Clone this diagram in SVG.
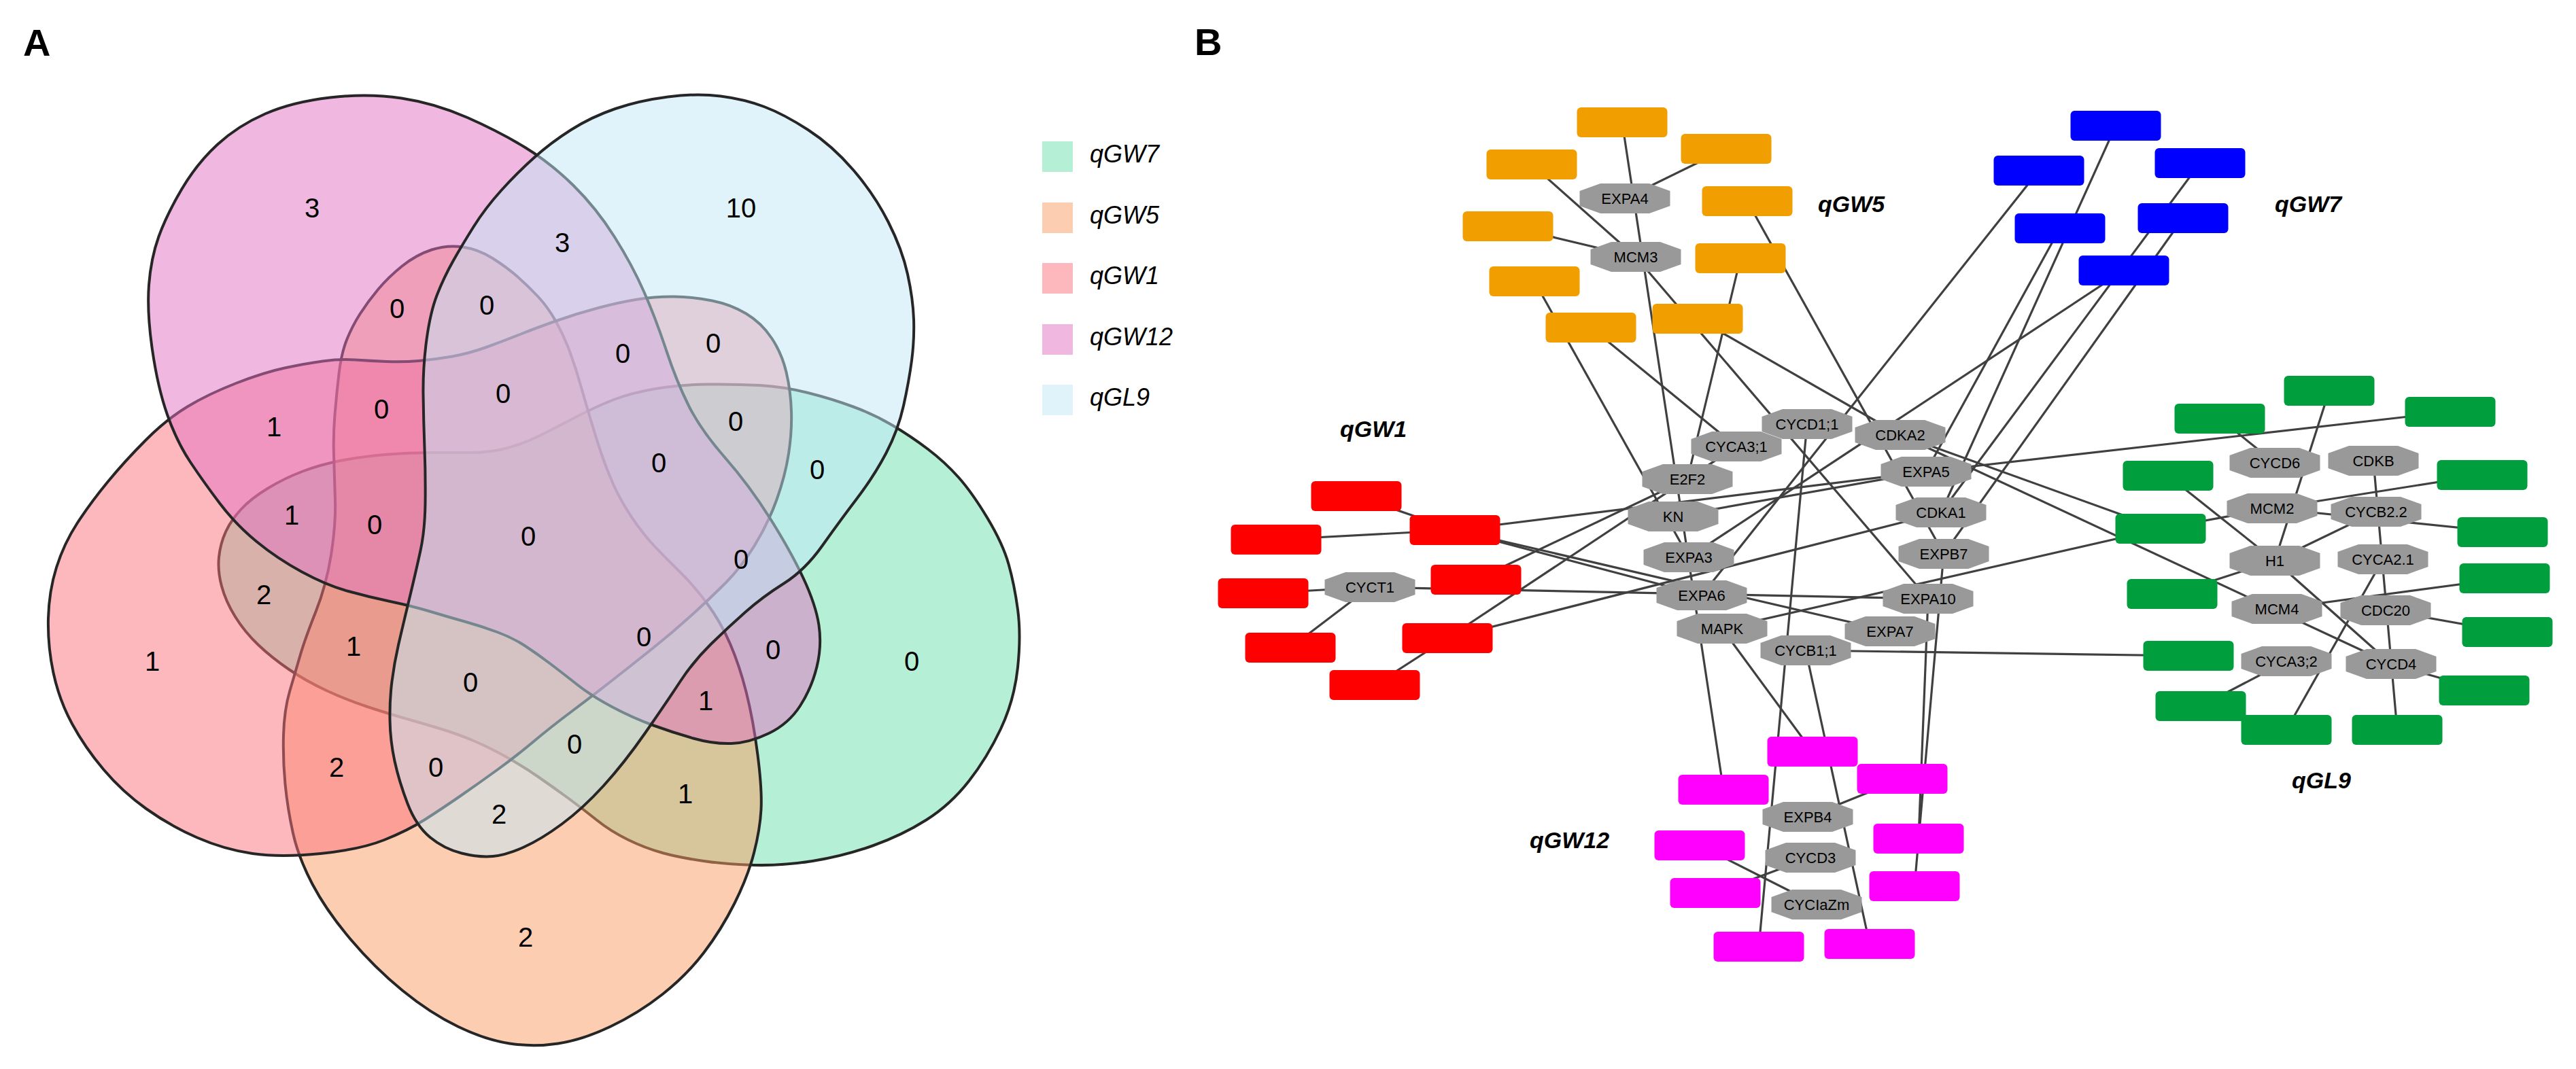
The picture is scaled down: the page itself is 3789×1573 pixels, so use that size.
<svg xmlns="http://www.w3.org/2000/svg" xmlns:xlink="http://www.w3.org/1999/xlink" width="3789" height="1573" viewBox="0 0 3789 1573">
<style>
.set{fill-opacity:0.5;stroke:#262626;stroke-width:4}
.vn{font-family:"Liberation Sans",Arial,sans-serif;font-size:40px;text-anchor:middle;fill:#000}
.lg{font-family:"Liberation Sans",Arial,sans-serif;font-size:36px;font-style:italic;fill:#000}
.pl{font-family:"Liberation Sans",Arial,sans-serif;font-size:56px;font-weight:bold;fill:#000}
.ql{font-family:"Liberation Sans",Arial,sans-serif;font-size:34px;font-weight:bold;font-style:italic;fill:#000}
.nl{font-family:"Liberation Sans",Arial,sans-serif;font-size:22px;text-anchor:middle;fill:#000}
.lk line{stroke:#404040;stroke-width:3.2}
.gold{fill:#F09E00}.blu{fill:#0000FF}.red{fill:#FF0000}.grn{fill:#009E3C}.mag{fill:#FF00FF}.oct{fill:#999999}
</style>
<defs>
<polygon id="oct" points="-36,-22 36,-22 66.5,-11 66.5,11 36,22 -36,22 -66.5,11 -66.5,-11"/>
</defs>
<rect width="3789" height="1573" fill="#fff"/>
<text class="pl" x="34" y="82">A</text>
<text class="pl" x="1757" y="81">B</text>
<g id="venn">
<path id="set-qGW7" class="set" fill="#6BE1AD" d="M1041,565.5 Q1082,565 1117.5,567 Q1153,569 1188.5,578 Q1224,587 1255,598.5 Q1286,610 1313,626 Q1340,642 1365,661 Q1390,680 1410,702.5 Q1430,725 1452.5,762.5 Q1475,800 1483.5,830 Q1492,860 1497,897 Q1502,934 1497,982 Q1492,1030 1472,1072.5 Q1452,1115 1425,1149.5 Q1398,1184 1362.5,1206.5 Q1327,1229 1283.5,1244.5 Q1240,1260 1195,1267 Q1150,1274 1110,1273 Q1070,1272 1035,1267 Q1000,1262 974.5,1255 Q949,1248 923.5,1235.5 Q898,1223 877.5,1206.5 Q857,1190 836.5,1175 Q816,1160 793,1144 Q770,1128 745,1114 Q720,1100 696.5,1090 Q673,1080 646.5,1072 Q620,1064 595.5,1057 Q571,1050 540.5,1040 Q510,1030 480,1016 Q450,1002 425,985 Q400,968 380,949 Q360,930 346,907.5 Q332,885 326,862.5 Q320,840 322,820 Q324,800 332,782.5 Q340,765 355,749 Q370,733 394,718.5 Q418,704 444,694 Q470,684 500,678 Q530,672 565,669 Q600,666 635,666 Q670,666 695,666 Q720,666 745,659.5 Q770,653 793,641.5 Q816,630 846.5,614 Q877,598 903,588 Q929,578 964.5,572 Q1000,566 1041,565.5 Z"/>
<path id="set-qGW5" class="set" fill="#F99B61" d="M821,1535.5 Q785,1541 749.5,1535.5 Q714,1530 673.5,1510.5 Q633,1491 592,1457.5 Q551,1424 515.5,1382 Q480,1340 459.5,1301 Q439,1262 431,1226 Q423,1190 419.5,1154 Q416,1118 417,1081.5 Q418,1045 426,1017.5 Q434,990 441.5,964.5 Q449,939 464.5,900 Q480,861 487,816.5 Q494,772 493,736 Q492,700 491,670 Q490,640 492.5,610 Q495,580 498.5,550 Q502,520 510,500 Q518,480 529.5,462 Q541,444 556,426 Q571,408 591.5,391.5 Q612,375 635,367.5 Q658,360 681,363.5 Q704,367 724.5,380 Q745,393 760.5,406.5 Q776,420 791,436 Q806,452 818,473.5 Q830,495 839,520 Q848,545 855,570 Q862,595 869.5,620 Q877,645 884.5,667.5 Q892,690 902,712.5 Q912,735 928.5,760 Q945,785 962.5,803.5 Q980,822 1000,841.5 Q1020,861 1040,888 Q1060,915 1074,947.5 Q1088,980 1098,1020 Q1108,1060 1114.5,1111 Q1121,1162 1119.5,1191 Q1118,1220 1109,1255 Q1100,1290 1080.5,1329 Q1061,1368 1035.5,1401.5 Q1010,1435 974.5,1463 Q939,1491 898,1510.5 Q857,1530 821,1535.5 Z"/>
<path id="set-qGW1" class="set" fill="#FB717D" d="M471.5,1256 Q413,1262 371.5,1256 Q330,1250 290,1232.5 Q250,1215 215,1190 Q180,1165 152.5,1132.5 Q125,1100 106,1065 Q87,1030 78.5,990 Q70,950 71,910 Q72,870 83,835 Q94,800 113.5,770 Q133,740 158.5,709 Q184,678 214.5,647.5 Q245,617 275.5,598.5 Q306,580 347,564 Q388,548 418.5,541.5 Q449,535 474.5,531.5 Q500,528 522.5,529.5 Q545,531 568.5,532 Q592,533 616,531 Q640,529 665,524.5 Q690,520 715,511 Q740,502 765,492 Q790,482 820,471.5 Q850,461 880,453 Q910,445 937.5,440.5 Q965,436 992.5,436.5 Q1020,437 1047.5,442.5 Q1075,448 1097.5,461.5 Q1120,475 1135,497.5 Q1150,520 1156.5,547.5 Q1163,575 1164,605 Q1165,635 1160,667.5 Q1155,700 1142.5,735 Q1130,770 1110,802.5 Q1090,835 1067.5,857.5 Q1045,880 1017.5,905 Q990,930 960,954 Q930,978 900,1001.5 Q870,1025 840,1047.5 Q810,1070 785,1091 Q760,1112 732.5,1132 Q705,1152 677.5,1171 Q650,1190 625,1206 Q600,1222 565,1236 Q530,1250 471.5,1256 Z"/>
<path id="set-qGW12" class="set" fill="#E171C1" d="M485.5,143.5 Q541,137 590.5,144.5 Q640,152 687.5,173 Q735,194 772.5,217 Q810,240 843.5,273 Q877,306 903.5,348 Q930,390 947.5,430 Q965,470 980,515.5 Q995,561 1013,597 Q1031,633 1066.5,673.5 Q1102,714 1132.5,762.5 Q1163,811 1181.5,850.5 Q1200,890 1204.5,920 Q1209,950 1201.5,981 Q1194,1012 1177,1038.5 Q1160,1065 1131,1079 Q1102,1093 1076,1094 Q1050,1095 1020,1086.5 Q990,1078 960,1067 Q930,1056 900,1040 Q870,1024 848.5,1007 Q827,990 808.5,976 Q790,962 772.5,950.5 Q755,939 732.5,930.5 Q710,922 685,915 Q660,908 633.5,900 Q607,892 574,885 Q541,878 510.5,869.5 Q480,861 444,841.5 Q408,822 377.5,797 Q347,772 323.5,741 Q300,710 280,680 Q260,650 246,610 Q232,570 224,514.5 Q216,459 219,419.5 Q222,380 233.5,348 Q245,316 267.5,278 Q290,240 320,212.5 Q350,185 390,167.5 Q430,150 485.5,143.5 Z"/>
<path id="set-qGL9" class="set" fill="#C1E7F7" d="M982.5,142.5 Q1025,137 1060,141.5 Q1095,146 1124,157 Q1153,168 1188.5,191 Q1224,214 1255,250 Q1286,286 1306.5,326.5 Q1327,367 1335,403.5 Q1343,440 1344,470 Q1345,500 1341,530.5 Q1337,561 1329,597 Q1321,633 1303.5,666.5 Q1286,700 1260.5,733.5 Q1235,767 1209.5,803 Q1184,839 1153,858.5 Q1122,878 1096.5,900.5 Q1071,923 1045.5,948 Q1020,973 1000,1003.5 Q980,1034 949,1078.5 Q918,1123 887.5,1156.5 Q857,1190 826.5,1212.5 Q796,1235 770.5,1246.5 Q745,1258 725,1260 Q705,1262 679,1255.5 Q653,1249 632.5,1232 Q612,1215 599.5,1182.5 Q587,1150 580.5,1120 Q574,1090 573.5,1060 Q573,1030 576.5,1002.5 Q580,975 586,949 Q592,923 602,881.5 Q612,840 618.5,810 Q625,780 625.5,740 Q626,700 624.5,660 Q623,620 622.5,580 Q622,540 627.5,499.5 Q633,459 643,433.5 Q653,408 666.5,384 Q680,360 697,333 Q714,306 737,280.5 Q760,255 785,232.5 Q810,210 840,191 Q870,172 905,160 Q940,148 982.5,142.5 Z"/>
</g>
<g id="venn-counts">
<text class="vn" x="459" y="320">3</text>
<text class="vn" x="1090" y="320">10</text>
<text class="vn" x="827" y="371">3</text>
<text class="vn" x="584" y="468">0</text>
<text class="vn" x="716" y="463">0</text>
<text class="vn" x="916" y="534">0</text>
<text class="vn" x="1049" y="519">0</text>
<text class="vn" x="403" y="642">1</text>
<text class="vn" x="561" y="616">0</text>
<text class="vn" x="740" y="593">0</text>
<text class="vn" x="1082" y="634">0</text>
<text class="vn" x="969" y="695">0</text>
<text class="vn" x="1202" y="705">0</text>
<text class="vn" x="429" y="772">1</text>
<text class="vn" x="551" y="786">0</text>
<text class="vn" x="777" y="803">0</text>
<text class="vn" x="1090" y="837">0</text>
<text class="vn" x="388" y="889">2</text>
<text class="vn" x="520" y="965">1</text>
<text class="vn" x="224" y="987">1</text>
<text class="vn" x="947" y="951">0</text>
<text class="vn" x="1137" y="970">0</text>
<text class="vn" x="1341" y="987">0</text>
<text class="vn" x="692" y="1018">0</text>
<text class="vn" x="1038" y="1045">1</text>
<text class="vn" x="495" y="1143">2</text>
<text class="vn" x="641" y="1143">0</text>
<text class="vn" x="845" y="1109">0</text>
<text class="vn" x="734" y="1212">2</text>
<text class="vn" x="1008" y="1182">1</text>
<text class="vn" x="773" y="1393">2</text>
</g>
<g id="legend">
<rect x="1533" y="208" width="45" height="45" fill="#B5F0D6"/><text class="lg" x="1603" y="239">qGW7</text>
<rect x="1533" y="298" width="45" height="45" fill="#FCCDB0"/><text class="lg" x="1603" y="329">qGW5</text>
<rect x="1533" y="387" width="45" height="45" fill="#FDB8BE"/><text class="lg" x="1603" y="418">qGW1</text>
<rect x="1533" y="477" width="45" height="45" fill="#F0B8E0"/><text class="lg" x="1603" y="508">qGW12</text>
<rect x="1533" y="566" width="45" height="45" fill="#E0F3FB"/><text class="lg" x="1603" y="597">qGL9</text>
</g>
<g id="connectors" class="lk">
<line x1="2386" y1="180" x2="2535" y2="1162"/>
<line x1="2539" y1="219" x2="2390" y2="292"/>
<line x1="2253" y1="242" x2="2406" y2="378"/>
<line x1="2218" y1="333" x2="2406" y2="378"/>
<line x1="2406" y1="378" x2="2836" y2="881"/>
<line x1="2257" y1="414" x2="2484" y2="820"/>
<line x1="2340" y1="482" x2="2554" y2="657"/>
<line x1="2560" y1="380" x2="2482" y2="705"/>
<line x1="2497" y1="469" x2="2795" y2="640"/>
<line x1="2570" y1="296" x2="2859" y2="815"/>
<line x1="3112" y1="185" x2="2855" y2="754"/>
<line x1="2999" y1="251" x2="2503" y2="876"/>
<line x1="3236" y1="240" x2="2855" y2="754"/>
<line x1="3030" y1="336" x2="2833" y2="694"/>
<line x1="3211" y1="321" x2="2859" y2="815"/>
<line x1="3124" y1="398" x2="2484" y2="820"/>
<line x1="1995" y1="730" x2="2140" y2="780"/>
<line x1="1877" y1="794" x2="2140" y2="780"/>
<line x1="2140" y1="780" x2="2833" y2="694"/>
<line x1="2140" y1="780" x2="2503" y2="876"/>
<line x1="2140" y1="780" x2="2780" y2="929"/>
<line x1="2171" y1="853" x2="2482" y2="705"/>
<line x1="1858" y1="873" x2="2015" y2="864"/>
<line x1="1898" y1="953" x2="2015" y2="864"/>
<line x1="2015" y1="864" x2="2836" y2="881"/>
<line x1="2129" y1="939" x2="2554" y2="657"/>
<line x1="2129" y1="939" x2="2855" y2="754"/>
<line x1="2022" y1="1008" x2="2129" y2="939"/>
<line x1="2461" y1="760" x2="2833" y2="694"/>
<line x1="2533" y1="925" x2="2666" y2="1106"/>
<line x1="2533" y1="925" x2="3178" y2="778"/>
<line x1="2658" y1="624" x2="2587" y2="1393"/>
<line x1="2656" y1="957" x2="2750" y2="1389"/>
<line x1="2656" y1="957" x2="3219" y2="965"/>
<line x1="2795" y1="640" x2="3178" y2="778"/>
<line x1="2795" y1="640" x2="3517" y2="977"/>
<line x1="3604" y1="606" x2="2833" y2="694"/>
<line x1="2859" y1="815" x2="2816" y2="1304"/>
<line x1="2836" y1="881" x2="2822" y2="1234"/>
<line x1="3426" y1="575" x2="3346" y2="825"/>
<line x1="3265" y1="616" x2="3346" y2="681"/>
<line x1="3491" y1="678" x2="3526" y2="1074"/>
<line x1="3189" y1="700" x2="3346" y2="825"/>
<line x1="3651" y1="699" x2="3342" y2="748"/>
<line x1="3178" y1="778" x2="3342" y2="748"/>
<line x1="3681" y1="783" x2="3342" y2="748"/>
<line x1="3495" y1="753" x2="3346" y2="825"/>
<line x1="3346" y1="825" x2="3195" y2="874"/>
<line x1="3346" y1="825" x2="3517" y2="977"/>
<line x1="3349" y1="896" x2="3684" y2="851"/>
<line x1="3505" y1="823" x2="3363" y2="1074"/>
<line x1="3509" y1="898" x2="3688" y2="930"/>
<line x1="3517" y1="977" x2="3654" y2="1016"/>
<line x1="3363" y1="973" x2="3237" y2="1039"/>
<line x1="2798" y1="1146" x2="2659" y2="1202"/>
<line x1="2500" y1="1244" x2="2672" y2="1331"/>
<line x1="2663" y1="1262" x2="2523" y2="1314"/>
</g>
<g id="qtl-labels">
<text class="ql" x="2674" y="312">qGW5</text>
<text class="ql" x="3346" y="312">qGW7</text>
<text class="ql" x="1971" y="643">qGW1</text>
<text class="ql" x="3371" y="1160">qGL9</text>
<text class="ql" x="2250" y="1248">qGW12</text>
</g>
<g id="n-G1"><rect class="gold" x="2319.5" y="158" width="133" height="44" rx="6"/></g>
<g id="n-G2"><rect class="gold" x="2472.5" y="197" width="133" height="44" rx="6"/></g>
<g id="n-G3"><rect class="gold" x="2186.5" y="220" width="133" height="44" rx="6"/></g>
<g id="n-G5"><rect class="gold" x="2503.5" y="274" width="133" height="44" rx="6"/></g>
<g id="n-G6"><rect class="gold" x="2151.5" y="311" width="133" height="44" rx="6"/></g>
<g id="n-G8"><rect class="gold" x="2493.5" y="358" width="133" height="44" rx="6"/></g>
<g id="n-G9"><rect class="gold" x="2190.5" y="392" width="133" height="44" rx="6"/></g>
<g id="n-G10"><rect class="gold" x="2430.5" y="447" width="133" height="44" rx="6"/></g>
<g id="n-G11"><rect class="gold" x="2273.5" y="460" width="133" height="44" rx="6"/></g>
<g id="n-EXPA4"><use xlink:href="#oct" class="oct" x="2390" y="292"/><text class="nl" x="2390" y="300">EXPA4</text></g>
<g id="n-MCM3"><use xlink:href="#oct" class="oct" x="2406" y="378"/><text class="nl" x="2406" y="386">MCM3</text></g>
<g id="n-B1"><rect class="blu" x="3045.5" y="163" width="133" height="44" rx="6"/></g>
<g id="n-B2"><rect class="blu" x="2932.5" y="229" width="133" height="44" rx="6"/></g>
<g id="n-B3"><rect class="blu" x="3169.5" y="218" width="133" height="44" rx="6"/></g>
<g id="n-B4"><rect class="blu" x="2963.5" y="314" width="133" height="44" rx="6"/></g>
<g id="n-B5"><rect class="blu" x="3144.5" y="299" width="133" height="44" rx="6"/></g>
<g id="n-B6"><rect class="blu" x="3057.5" y="376" width="133" height="44" rx="6"/></g>
<g id="n-R1"><rect class="red" x="1928.5" y="708" width="133" height="44" rx="6"/></g>
<g id="n-R2"><rect class="red" x="2073.5" y="758" width="133" height="44" rx="6"/></g>
<g id="n-R3"><rect class="red" x="1810.5" y="772" width="133" height="44" rx="6"/></g>
<g id="n-R4"><rect class="red" x="2104.5" y="831" width="133" height="44" rx="6"/></g>
<g id="n-R5"><rect class="red" x="1791.5" y="851" width="133" height="44" rx="6"/></g>
<g id="n-R6"><rect class="red" x="2062.5" y="917" width="133" height="44" rx="6"/></g>
<g id="n-R7"><rect class="red" x="1831.5" y="931" width="133" height="44" rx="6"/></g>
<g id="n-R8"><rect class="red" x="1955.5" y="986" width="133" height="44" rx="6"/></g>
<g id="n-CYCT1"><use xlink:href="#oct" class="oct" x="2015" y="864"/><text class="nl" x="2015" y="872">CYCT1</text></g>
<g id="n-CYCD1-1"><use xlink:href="#oct" class="oct" x="2658" y="624"/><text class="nl" x="2658" y="632">CYCD1;1</text></g>
<g id="n-CDKA2"><use xlink:href="#oct" class="oct" x="2795" y="640"/><text class="nl" x="2795" y="648">CDKA2</text></g>
<g id="n-CYCA3-1"><use xlink:href="#oct" class="oct" x="2554" y="657"/><text class="nl" x="2554" y="665">CYCA3;1</text></g>
<g id="n-E2F2"><use xlink:href="#oct" class="oct" x="2482" y="705"/><text class="nl" x="2482" y="713">E2F2</text></g>
<g id="n-EXPA5"><use xlink:href="#oct" class="oct" x="2833" y="694"/><text class="nl" x="2833" y="702">EXPA5</text></g>
<g id="n-KN"><use xlink:href="#oct" class="oct" x="2461" y="760"/><text class="nl" x="2461" y="768">KN</text></g>
<g id="n-CDKA1"><use xlink:href="#oct" class="oct" x="2855" y="754"/><text class="nl" x="2855" y="762">CDKA1</text></g>
<g id="n-EXPA3"><use xlink:href="#oct" class="oct" x="2484" y="820"/><text class="nl" x="2484" y="828">EXPA3</text></g>
<g id="n-EXPB7"><use xlink:href="#oct" class="oct" x="2859" y="815"/><text class="nl" x="2859" y="823">EXPB7</text></g>
<g id="n-EXPA6"><use xlink:href="#oct" class="oct" x="2503" y="876"/><text class="nl" x="2503" y="884">EXPA6</text></g>
<g id="n-EXPA10"><use xlink:href="#oct" class="oct" x="2836" y="881"/><text class="nl" x="2836" y="889">EXPA10</text></g>
<g id="n-MAPK"><use xlink:href="#oct" class="oct" x="2533" y="925"/><text class="nl" x="2533" y="933">MAPK</text></g>
<g id="n-EXPA7"><use xlink:href="#oct" class="oct" x="2780" y="929"/><text class="nl" x="2780" y="937">EXPA7</text></g>
<g id="n-CYCB1-1"><use xlink:href="#oct" class="oct" x="2656" y="957"/><text class="nl" x="2656" y="965">CYCB1;1</text></g>
<g id="n-Gr1"><rect class="grn" x="3359.5" y="553" width="133" height="44" rx="6"/></g>
<g id="n-Gr2"><rect class="grn" x="3198.5" y="594" width="133" height="44" rx="6"/></g>
<g id="n-Gr3"><rect class="grn" x="3537.5" y="584" width="133" height="44" rx="6"/></g>
<g id="n-Gr4"><rect class="grn" x="3122.5" y="678" width="133" height="44" rx="6"/></g>
<g id="n-Gr5"><rect class="grn" x="3584.5" y="677" width="133" height="44" rx="6"/></g>
<g id="n-Gr6"><rect class="grn" x="3111.5" y="756" width="133" height="44" rx="6"/></g>
<g id="n-Gr7"><rect class="grn" x="3614.5" y="761" width="133" height="44" rx="6"/></g>
<g id="n-Gr8"><rect class="grn" x="3617.5" y="829" width="133" height="44" rx="6"/></g>
<g id="n-Gr9"><rect class="grn" x="3128.5" y="852" width="133" height="44" rx="6"/></g>
<g id="n-Gr10"><rect class="grn" x="3621.5" y="908" width="133" height="44" rx="6"/></g>
<g id="n-Gr11"><rect class="grn" x="3152.5" y="943" width="133" height="44" rx="6"/></g>
<g id="n-Gr12"><rect class="grn" x="3587.5" y="994" width="133" height="44" rx="6"/></g>
<g id="n-Gr13"><rect class="grn" x="3170.5" y="1017" width="133" height="44" rx="6"/></g>
<g id="n-Gr14"><rect class="grn" x="3296.5" y="1052" width="133" height="44" rx="6"/></g>
<g id="n-Gr15"><rect class="grn" x="3459.5" y="1052" width="133" height="44" rx="6"/></g>
<g id="n-CYCD6"><use xlink:href="#oct" class="oct" x="3346" y="681"/><text class="nl" x="3346" y="689">CYCD6</text></g>
<g id="n-CDKB"><use xlink:href="#oct" class="oct" x="3491" y="678"/><text class="nl" x="3491" y="686">CDKB</text></g>
<g id="n-MCM2"><use xlink:href="#oct" class="oct" x="3342" y="748"/><text class="nl" x="3342" y="756">MCM2</text></g>
<g id="n-CYCB2-2"><use xlink:href="#oct" class="oct" x="3495" y="753"/><text class="nl" x="3495" y="761">CYCB2.2</text></g>
<g id="n-H1"><use xlink:href="#oct" class="oct" x="3346" y="825"/><text class="nl" x="3346" y="833">H1</text></g>
<g id="n-CYCA2-1"><use xlink:href="#oct" class="oct" x="3505" y="823"/><text class="nl" x="3505" y="831">CYCA2.1</text></g>
<g id="n-MCM4"><use xlink:href="#oct" class="oct" x="3349" y="896"/><text class="nl" x="3349" y="904">MCM4</text></g>
<g id="n-CDC20"><use xlink:href="#oct" class="oct" x="3509" y="898"/><text class="nl" x="3509" y="906">CDC20</text></g>
<g id="n-CYCA3-2"><use xlink:href="#oct" class="oct" x="3363" y="973"/><text class="nl" x="3363" y="981">CYCA3;2</text></g>
<g id="n-CYCD4"><use xlink:href="#oct" class="oct" x="3517" y="977"/><text class="nl" x="3517" y="985">CYCD4</text></g>
<g id="n-M1"><rect class="mag" x="2599.5" y="1084" width="133" height="44" rx="6"/></g>
<g id="n-M2"><rect class="mag" x="2731.5" y="1124" width="133" height="44" rx="6"/></g>
<g id="n-M3"><rect class="mag" x="2468.5" y="1140" width="133" height="44" rx="6"/></g>
<g id="n-M4"><rect class="mag" x="2755.5" y="1212" width="133" height="44" rx="6"/></g>
<g id="n-M5"><rect class="mag" x="2433.5" y="1222" width="133" height="44" rx="6"/></g>
<g id="n-M6"><rect class="mag" x="2749.5" y="1282" width="133" height="44" rx="6"/></g>
<g id="n-M7"><rect class="mag" x="2456.5" y="1292" width="133" height="44" rx="6"/></g>
<g id="n-M8"><rect class="mag" x="2520.5" y="1371" width="133" height="44" rx="6"/></g>
<g id="n-M9"><rect class="mag" x="2683.5" y="1367" width="133" height="44" rx="6"/></g>
<g id="n-EXPB4"><use xlink:href="#oct" class="oct" x="2659" y="1202"/><text class="nl" x="2659" y="1210">EXPB4</text></g>
<g id="n-CYCD3"><use xlink:href="#oct" class="oct" x="2663" y="1262"/><text class="nl" x="2663" y="1270">CYCD3</text></g>
<g id="n-CYCIaZm"><use xlink:href="#oct" class="oct" x="2672" y="1331"/><text class="nl" x="2672" y="1339">CYCIaZm</text></g>
</svg>
